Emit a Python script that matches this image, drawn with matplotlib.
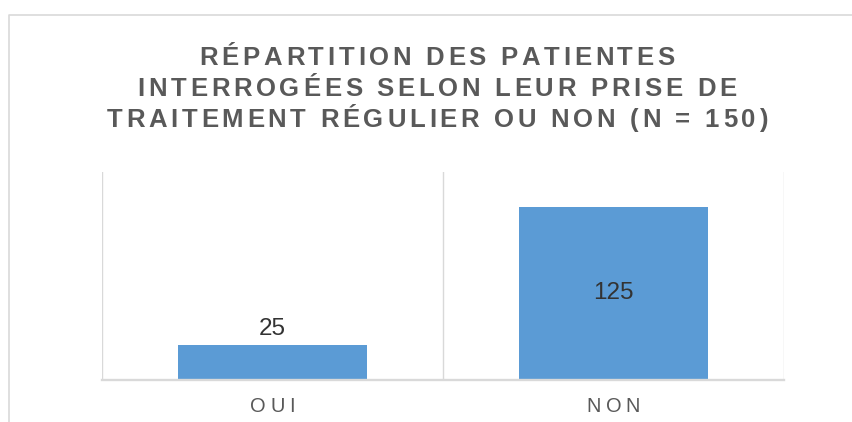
#!/usr/bin/env python3
"""
Bar chart: patients by regular treatment intake (Excel-style, tracked caps text).
"""

import matplotlib
matplotlib.use('Agg')
import matplotlib.pyplot as plt
from matplotlib.font_manager import FontProperties, findfont, get_font
from matplotlib.lines import Line2D
from matplotlib.transforms import IdentityTransform

# Data
categories = ["OUI", "NON"]
counts = [25, 125]
y_max = 150
title_lines = [
    "RÉPARTITION DES PATIENTES",
    "INTERROGÉES SELON LEUR PRISE DE",
    "TRAITEMENT RÉGULIER OU NON (N = 150)",
]

# Style
W_PX, H_PX, DPI = 852, 422, 100
FONT = 'Liberation Sans'
BAR_COLOR = '#5b9bd5'
GRID_COLOR = '#d9d9d9'
TITLE_COLOR = '#595959'
TICK_COLOR = '#595959'
LABEL_COLOR = '#333333'


def tracked_text(fig, cx, y_top, s, size, track, color, weight='normal'):
    """Draw s centred on cx (display px) with extra letter spacing, baseline at y_top px from top."""
    prop = FontProperties(family=FONT, size=size, weight=weight)
    font = get_font(findfont(prop))
    font.set_size(size, fig.dpi)
    advs = [font.load_char(ord(c)).linearHoriAdvance / 65536 for c in s]
    total = sum(advs) + track * (len(s) - 1)
    x = cx - total / 2
    for c, a in zip(s, advs):
        if c != ' ':
            fig.text(x + a / 2, H_PX - y_top, c, fontproperties=prop, color=color,
                     ha='center', va='baseline', transform=IdentityTransform())
        x += a + track


fig = plt.figure(figsize=(W_PX / DPI, H_PX / DPI), dpi=DPI)

# outer chart frame (only top and left edges fall inside the picture)
fig.add_artist(Line2D([9, 9, W_PX], [0, H_PX - 15, H_PX - 15], color=GRID_COLOR,
                      lw=1.2, transform=IdentityTransform()))

ax = fig.add_axes([102 / W_PX, 42 / H_PX, (784 - 102) / W_PX, (380 - 172) / H_PX])
x = list(range(len(categories)))
bars = ax.bar(x, counts, width=0.557, color=BAR_COLOR, zorder=2)
ax.set_xlim(-0.5, len(categories) - 0.5)
ax.set_ylim(0, y_max)

# vertical separators between categories
for b in [i - 0.5 for i in range(len(categories) + 1)]:
    ax.axvline(b, color=GRID_COLOR, lw=1.0, zorder=1)

for s in ['top', 'left', 'right']:
    ax.spines[s].set_visible(False)
ax.spines['bottom'].set_color(GRID_COLOR)
ax.spines['bottom'].set_linewidth(1.7)
ax.spines['bottom'].set_zorder(3)
ax.set_xticks([])
ax.set_yticks([])

# data labels: outside end for short bars, centred for tall ones
for xi, v in zip(x, counts):
    if v > 0.5 * y_max:
        ax.text(xi, v / 2, str(v), ha='center', va='center', fontsize=17.5,
                family=FONT, color=LABEL_COLOR, zorder=4)
    else:
        ax.annotate(str(v), xy=(xi, v), xytext=(0, 10), textcoords='offset pixels',
                    ha='center', va='baseline', fontsize=17.5, family=FONT,
                    color=LABEL_COLOR, zorder=4)

# category labels with letter spacing
for xi, lab in zip(x, categories):
    px = ax.transData.transform((xi, 0))[0]
    tracked_text(fig, px, 412, lab, 14.4, 4.5, TICK_COLOR)

# title
for i, line in enumerate(title_lines):
    tracked_text(fig, 437, 65 + 31 * i, line, 18.5, 3.7, TITLE_COLOR, weight='bold')

fig.savefig('out.png', dpi=DPI)
